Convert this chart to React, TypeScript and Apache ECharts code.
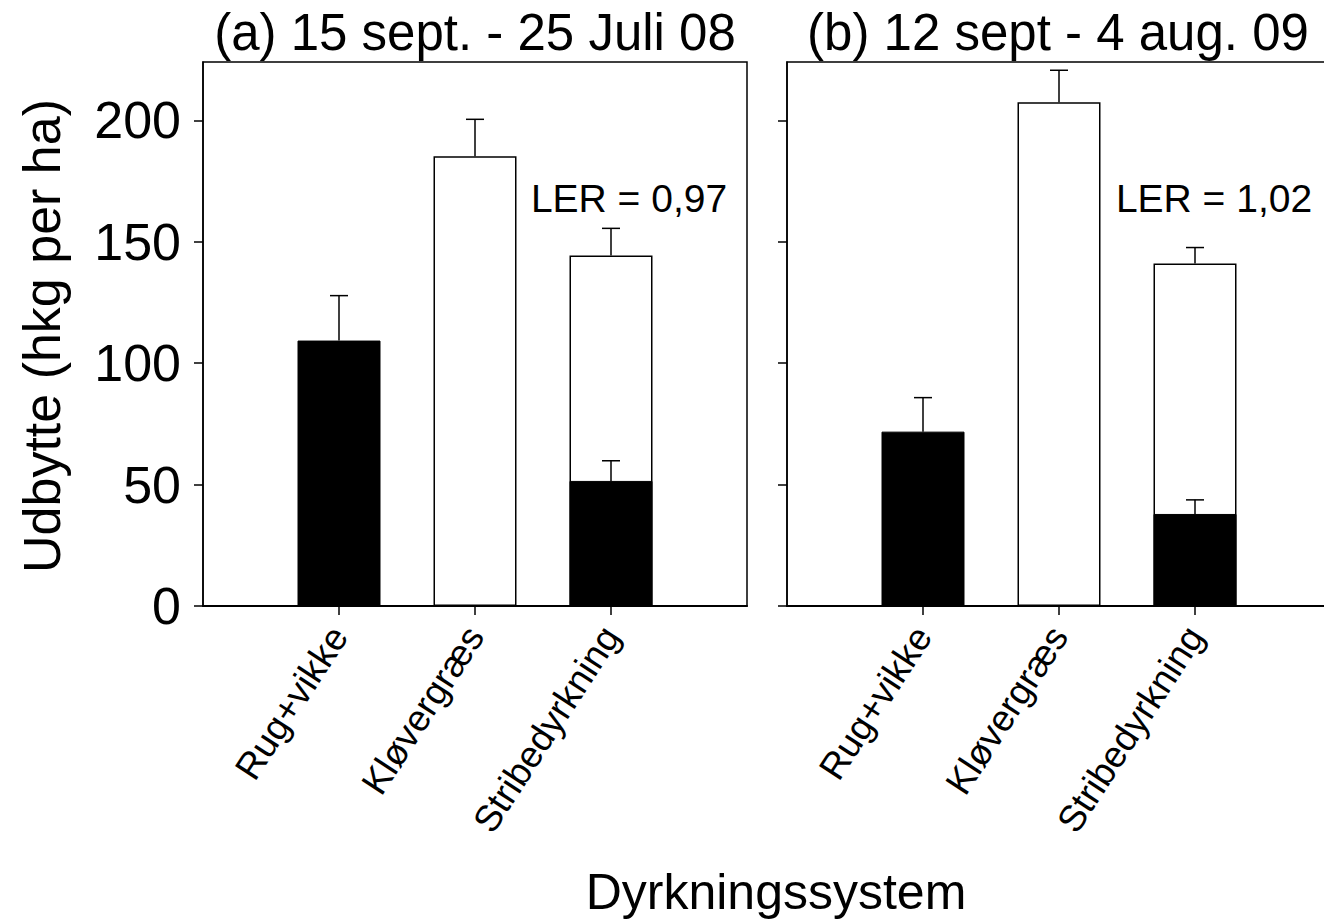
import React, { useEffect, useRef } from "react";
import * as echarts from "echarts";

const categories = ["Rug+vikke", "Kløvergræs", "Stribedyrkning"];
const yTicks = [0, 50, 100, 150, 200];

// Panel (a) 15 sept. - 25 Juli 08
const aBlack = [109.3, null, 51.5];
const aBlackSE = [18.5, null, 8.3];
const aWhite = [null, 185.2, 144.3];
const aWhiteSE = [null, 15.2, 11.2];

// Panel (b) 12 sept - 4 aug. 09
const bBlack = [71.8, null, 37.9];
const bBlackSE = [14.0, null, 5.8];
const bWhite = [null, 207.4, 141.0];
const bWhiteSE = [null, 13.2, 6.6];

const titleA = "(a) 15 sept. - 25 Juli 08";
const titleB = "(b) 12 sept - 4 aug. 09";
const lerA = "LER = 0,97";
const lerB = "LER = 1,02";
const yName = "Udbytte (hkg per ha)";
const xName = "Dyrkningssystem";

const FONT = "'Liberation Sans', Arial, sans-serif";

const pad = (arr: (number | null)[]) => ["-", ...arr.map((v) => (v == null ? "-" : v)), "-"];
const axisCats = ["", ...categories, ""];

function errData(vals: (number | null)[], se: (number | null)[]) {
  const out: number[][] = [];
  vals.forEach((v, i) => {
    if (v != null && se[i] != null) out.push([i + 1, v, se[i] as number]);
  });
  return out;
}

export default function App() {
  const ref = useRef<HTMLDivElement>(null);
  useEffect(() => {
    if (!ref.current) return;
    const chart = echarts.init(ref.current, null, { renderer: "svg" });

    const xAxisBase = (gridIndex: number) => ({
      type: "category",
      gridIndex,
      data: axisCats,
      boundaryGap: false,
      axisLine: { show: true, lineStyle: { color: "#000", width: 2 } },
      axisTick: {
        show: true,
        length: 9,
        lineStyle: { color: "#000", width: 1.5 },
        interval: (idx: number) => idx >= 1 && idx <= 3,
      },
      axisLabel: {
        show: true,
        rotate: 57,
        margin: 24,
        fontSize: 37,
        color: "#000",
        fontFamily: FONT,
        interval: (idx: number) => idx >= 1 && idx <= 3,
      },
      splitLine: { show: false },
    });

    const yAxisBase = (gridIndex: number, showLabels: boolean) => ({
      type: "value",
      gridIndex,
      min: 0,
      max: 224,
      interval: 50,
      axisLine: { show: true, lineStyle: { color: "#000", width: 1.5 } },
      axisTick: {
        show: true,
        length: 9,
        lineStyle: { color: "#000", width: 1.5 },
        customValues: yTicks,
      },
      axisLabel: {
        show: showLabels,
        fontSize: 52,
        margin: 22,
        color: "#000",
        fontFamily: FONT,
        customValues: yTicks,
      },
      splitLine: { show: false },
    });

    const errSeries = (xi: number, data: number[][]) => ({
      type: "custom",
      xAxisIndex: xi,
      yAxisIndex: xi,
      z: 10,
      data,
      renderItem: (params: any, api: any) => {
        const x = api.value(0);
        const v = api.value(1);
        const se = api.value(2);
        const base = api.coord([x, v]);
        const top = api.coord([x, v + se]);
        const style = { stroke: "#000", lineWidth: 1.5 };
        return {
          type: "group",
          children: [
            { type: "line", shape: { x1: base[0], y1: base[1], x2: top[0], y2: top[1] }, style },
            { type: "line", shape: { x1: top[0] - 9, y1: top[1], x2: top[0] + 9, y2: top[1] }, style },
          ],
        };
      },
    });

    const barPair = (xi: number, white: (number | null)[], black: (number | null)[]) => [
      {
        type: "bar",
        xAxisIndex: xi,
        yAxisIndex: xi,
        barWidth: 83,
        barGap: "-100%",
        z: 2,
        data: pad(white),
        itemStyle: { color: "#fff", borderColor: "#000", borderWidth: 1.5 },
      },
      {
        type: "bar",
        xAxisIndex: xi,
        yAxisIndex: xi,
        barWidth: 83,
        barGap: "-100%",
        z: 3,
        data: pad(black),
        itemStyle: { color: "#000", borderColor: "#000", borderWidth: 1 },
      },
    ];

    const textStyle = (text: string, size: number) => ({
      text,
      fontSize: size,
      fontFamily: FONT,
      fill: "#000",
      align: "center",
      verticalAlign: "middle",
    });

    chart.setOption({
      animation: false,
      backgroundColor: "#fff",
      grid: [
        { left: 203, top: 62, width: 544, height: 544, show: true, borderColor: "#000", borderWidth: 1.5, backgroundColor: "transparent" },
        { left: 787, top: 62, width: 544, height: 544, show: true, borderColor: "#000", borderWidth: 1.5, backgroundColor: "transparent" },
      ],
      xAxis: [xAxisBase(0), xAxisBase(1)],
      yAxis: [yAxisBase(0, true), yAxisBase(1, false)],
      series: [
        ...barPair(0, aWhite, aBlack),
        ...barPair(1, bWhite, bBlack),
        errSeries(0, [...errData(aWhite, aWhiteSE), ...errData(aBlack, aBlackSE)]),
        errSeries(1, [...errData(bWhite, bWhiteSE), ...errData(bBlack, bBlackSE)]),
      ],
      graphic: [
        { type: "text", x: 475, y: 32, style: textStyle(titleA, 51) },
        { type: "text", x: 1058, y: 32, style: textStyle(titleB, 51) },
        { type: "text", x: 629, y: 198, style: textStyle(lerA, 39) },
        { type: "text", x: 1214, y: 198, style: textStyle(lerB, 39) },
        { type: "text", x: 776, y: 892, style: textStyle(xName, 50) },
        { type: "text", x: 42, y: 336, rotation: Math.PI / 2, style: textStyle(yName, 52) },
      ],
    });
    return () => chart.dispose();
  }, []);

  return (
    <div style={{ position: "absolute", left: 0, top: 0, width: 1324, height: 921, overflow: "hidden", background: "#fff" }}>
      <div ref={ref} style={{ width: 1400, height: 921 }} />
    </div>
  );
}
